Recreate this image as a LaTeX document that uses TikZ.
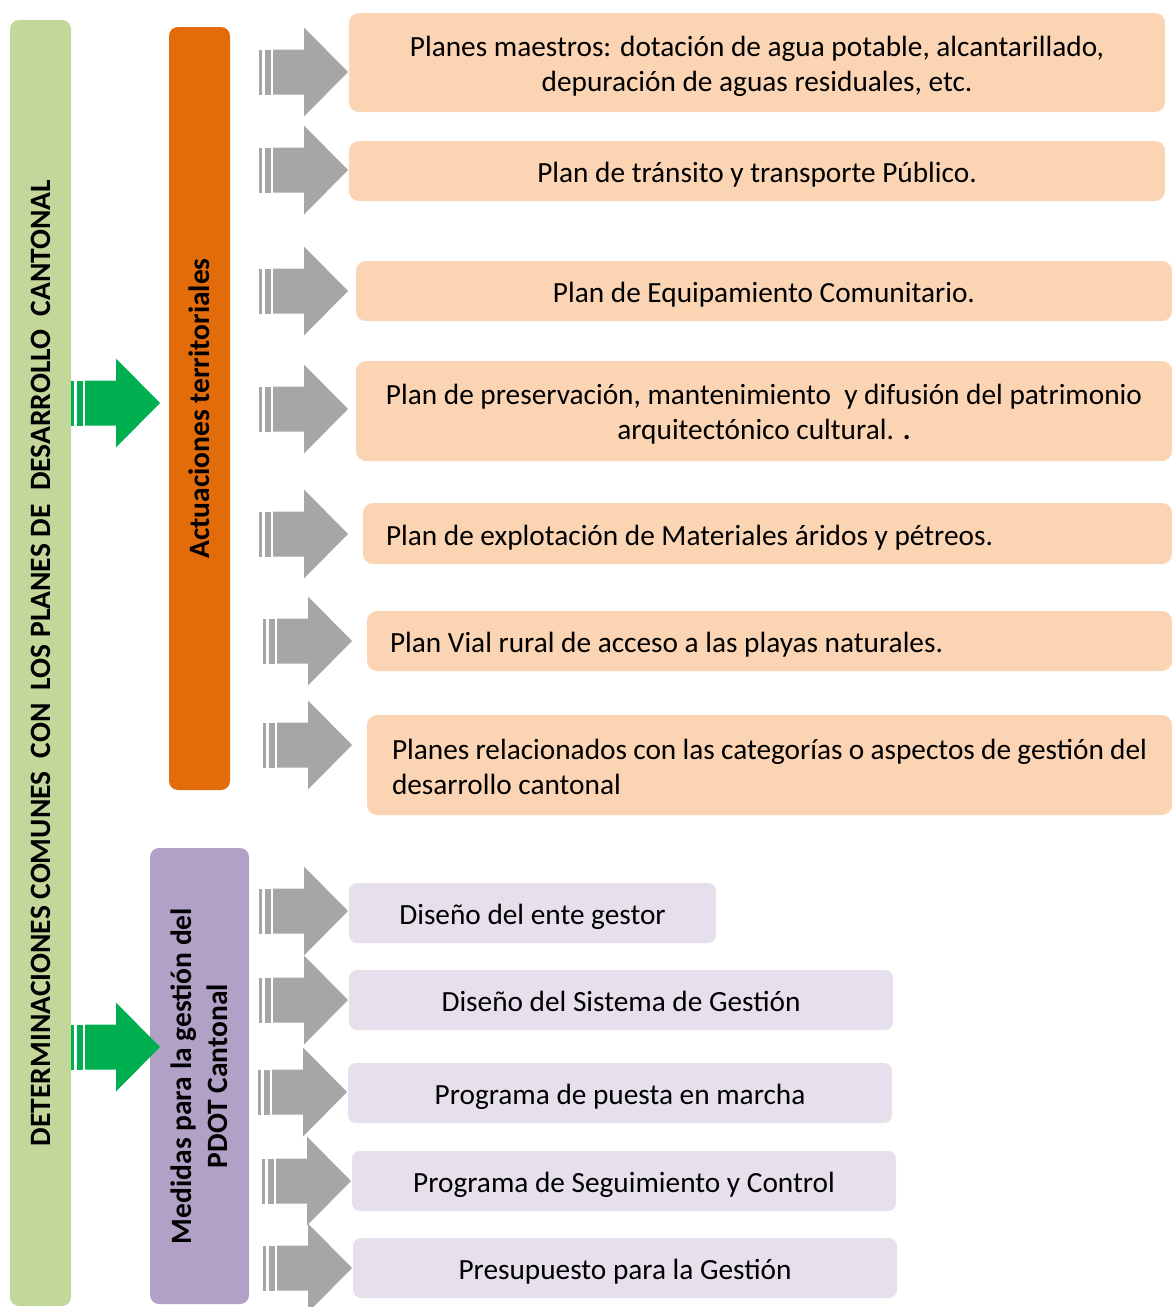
\documentclass[tikz,border=0pt]{standalone}
\usepackage{fontspec}
\setmainfont{Carlito}
\definecolor{barolive}{RGB}{196,215,155}
\definecolor{barorange}{RGB}{227,108,10}
\definecolor{barlilac}{RGB}{178,161,199}
\definecolor{boxpeach}{RGB}{251,212,180}
\definecolor{boxlilac}{RGB}{229,224,236}
\definecolor{arrowgray}{RGB}{166,166,166}
\definecolor{arrowgreen}{RGB}{0,176,80}
\tikzset{
  striped/.pic={
    \fill[#1] (0,-22.5) rectangle (3,22.5);
    \fill[#1] (6,-22.5) rectangle (12,22.5);
    \fill[#1] (14,-22.5) -- (45,-22.5) -- (45,-44.5) -- (89,0) -- (45,44.5) -- (45,22.5) -- (14,22.5) -- cycle;
  },
  boxtext/.style={font=\fontsize{29.3}{35}\selectfont,
    execute at begin node={\rule{0pt}{31pt}},execute at end node={\rule[-8pt]{0pt}{0pt}}},
  twoline/.style={execute at begin node={\rule{0pt}{65pt}}},
  paragraph/.style={execute at begin node={},execute at end node={}}
}
\begin{document}
\begin{tikzpicture}[x=1pt,y=-1pt,
  bar/.style={rounded corners=9pt,inner sep=0pt,rotate=90,font=\fontsize{29.5}{36}\selectfont\bfseries},
  peach/.style={boxtext,fill=boxpeach,rounded corners=10pt,inner xsep=23pt,inner ysep=0pt},
  lilac/.style={boxtext,fill=boxlilac,rounded corners=8pt,inner sep=0pt,minimum height=60pt}]
\useasboundingbox (0,0) rectangle (1172,1307);
%\draw (0,0) grid[step=100] (1172,1307);
% left bars
\node[bar,fill=barolive,minimum width=1286pt,minimum height=61pt] (det) at (40.5,663) {DETERMINACIONES COMUNES~ CON~ LOS PLANES DE~ DESARROLLO~ CANTONAL};
\node[bar,fill=barorange,minimum width=763pt,minimum height=61pt] (act) at (199.5,408.5) {Actuaciones territoriales};
\node[bar,fill=barlilac,minimum width=456pt,minimum height=99pt,align=center] (med) at (199.5,1076) {Medidas para la gestión del\\PDOT Cantonal};
% arrows
\pic at (71,403) {striped=arrowgreen};
\pic at (71,1047) {striped=arrowgreen};
\foreach \x/\y in {259/72,259/170,259/291,259/409,259/534,263/641,263/745,259/911,259/1000,258/1092,262/1181,263/1268}
  \pic at (\x,\y) {striped=arrowgray};
% actuaciones
\node[peach,twoline,minimum width=816pt,minimum height=99pt,align=center] (m1) at (757,62.5) {Planes maestros: dotación de agua potable, alcantarillado,\\depuración de aguas residuales, etc.};
\node[peach,minimum width=816pt,minimum height=60pt] (m2) at (757,171) {Plan de tránsito y transporte Público.};
\node[peach,minimum width=816pt,minimum height=60pt] (m3) at (764,291) {Plan de Equipamiento Comunitario.};
\node[peach,twoline,minimum width=816pt,minimum height=100pt,align=center] (m4) at (764,411) {Plan de preservación, mantenimiento~ y difusión del patrimonio\\arquitectónico cultural. \textbf{.}};
\node[peach,text width=763pt,minimum height=61pt,align=flush left] (m5) at (767.5,533.5) {Plan de explotación de Materiales áridos y pétreos.};
\node[peach,text width=759pt,minimum height=60pt,align=flush left] (m6) at (769.5,641) {Plan Vial rural de acceso a las playas naturales.};
\node[peach,paragraph,inner xsep=25pt,text width=755pt,minimum height=100pt,align=flush left] (m7) at (769.5,765) {Planes relacionados con las categorías o aspectos de gestión del\\desarrollo cantonal};
% medidas
\node[lilac,minimum width=367pt] (g1) at (532.5,913) {Diseño del ente gestor};
\node[lilac,minimum width=544pt] (g2) at (621,1000) {Diseño del Sistema de Gestión};
\node[lilac,minimum width=544pt] (g3) at (620,1093) {Programa de puesta en marcha};
\node[lilac,minimum width=544pt] (g4) at (624,1181) {Programa de Seguimiento y Control};
\node[lilac,minimum width=544pt] (g5) at (625,1268) {Presupuesto para la Gestión};
\end{tikzpicture}
\end{document}
